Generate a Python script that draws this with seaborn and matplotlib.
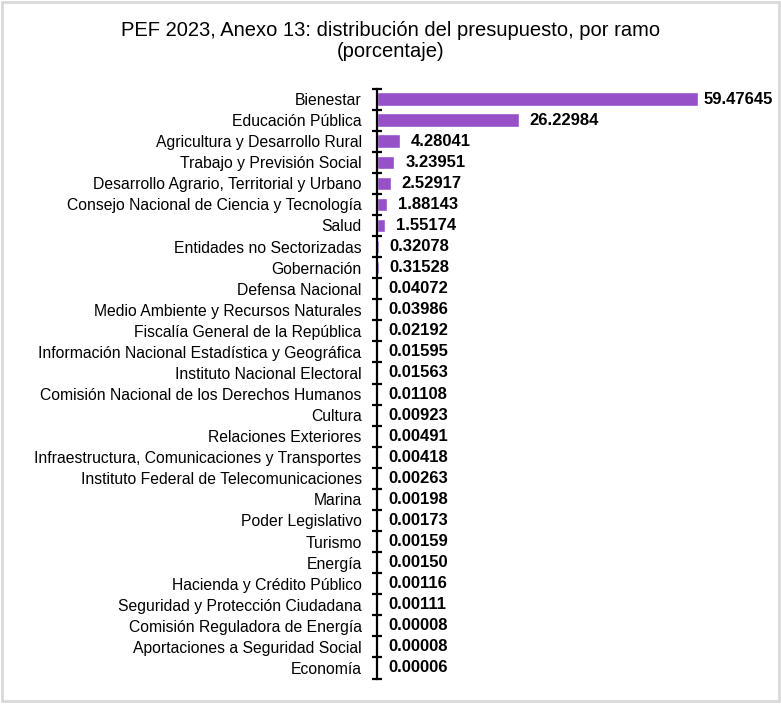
import numpy as np
import pandas as pd
import seaborn as sns
import matplotlib.pyplot as plt
from matplotlib.patches import Rectangle

ramos = ["Bienestar", "Educación Pública", "Agricultura y Desarrollo Rural",
         "Trabajo y Previsión Social", "Desarrollo Agrario, Territorial y Urbano",
         "Consejo Nacional de Ciencia y Tecnología", "Salud",
         "Entidades no Sectorizadas", "Gobernación", "Defensa Nacional",
         "Medio Ambiente y Recursos Naturales", "Fiscalía General de la República",
         "Información Nacional Estadística y Geográfica", "Instituto Nacional Electoral",
         "Comisión Nacional de los Derechos Humanos", "Cultura", "Relaciones Exteriores",
         "Infraestructura, Comunicaciones y Transportes",
         "Instituto Federal de Telecomunicaciones", "Marina", "Poder Legislativo",
         "Turismo", "Energía", "Hacienda y Crédito Público",
         "Seguridad y Protección Ciudadana", "Comisión Reguladora de Energía",
         "Aportaciones a Seguridad Social", "Economía"]
porcentaje = [59.47645, 26.22984, 4.28041, 3.23951, 2.52917, 1.88143, 1.55174,
              0.32078, 0.31528, 0.04072, 0.03986, 0.02192, 0.01595, 0.01563,
              0.01108, 0.00923, 0.00491, 0.00418, 0.00263, 0.00198, 0.00173,
              0.00159, 0.00150, 0.00116, 0.00111, 0.00008, 0.00008, 0.00006]

df = pd.DataFrame({"ramo": ramos, "pct": porcentaje})

sns.set_style("white")
plt.rcParams['font.family'] = ['Liberation Sans', 'DejaVu Sans']
plt.rcParams['text.color'] = 'black'
plt.rcParams['ytick.labelcolor'] = 'black'

fig = plt.figure(figsize=(7.81, 7.04), dpi=100)
ax = fig.add_axes([377/781, 1 - 678.5/704, 378/781, 590/704])
sns.barplot(data=df, x="pct", y="ramo", color="#9651C9", saturation=1,
            width=0.64, ax=ax)

ax.set_xlim(0, 70)
ax.set_ylim(len(ramos) - 0.5, -0.5)
for s in ["top", "right", "bottom"]:
    ax.spines[s].set_visible(False)
ax.spines["left"].set_color("black")
ax.spines["left"].set_linewidth(1.6)
ax.set_xticks([])
ax.set_xlabel("")
ax.set_ylabel("")
ax.tick_params(axis="y", which="major", length=0, pad=11, labelsize=11.3,
               labelcolor="black")
ax.set_yticks(np.arange(-0.5, len(ramos), 1), minor=True)
ax.tick_params(axis="y", which="minor", left=True, direction="inout",
               length=7.5, width=1.6, color="black")

# value labels; the largest one is pulled in so it stays inside the frame
for i, v in enumerate(porcentaje):
    off = 3.5 if i == 0 else 8
    ax.annotate(f"{v:.5f}", (v, i), xytext=(off, 0), textcoords="offset points",
                va="center", ha="left", fontsize=12, fontweight="bold", color="black")

fig.text(0.5, 1 - 41/704, "PEF 2023, Anexo 13: distribución del presupuesto, por ramo\n(porcentaje)",
         ha="center", va="center", fontsize=14.5, linespacing=1.1, color="black")

fig.patches.append(Rectangle((2/781, 3/704), 777/781, 699/704, transform=fig.transFigure,
                             fill=False, edgecolor="#d9d9d9", linewidth=2))

fig.savefig("out.png", dpi=100)
